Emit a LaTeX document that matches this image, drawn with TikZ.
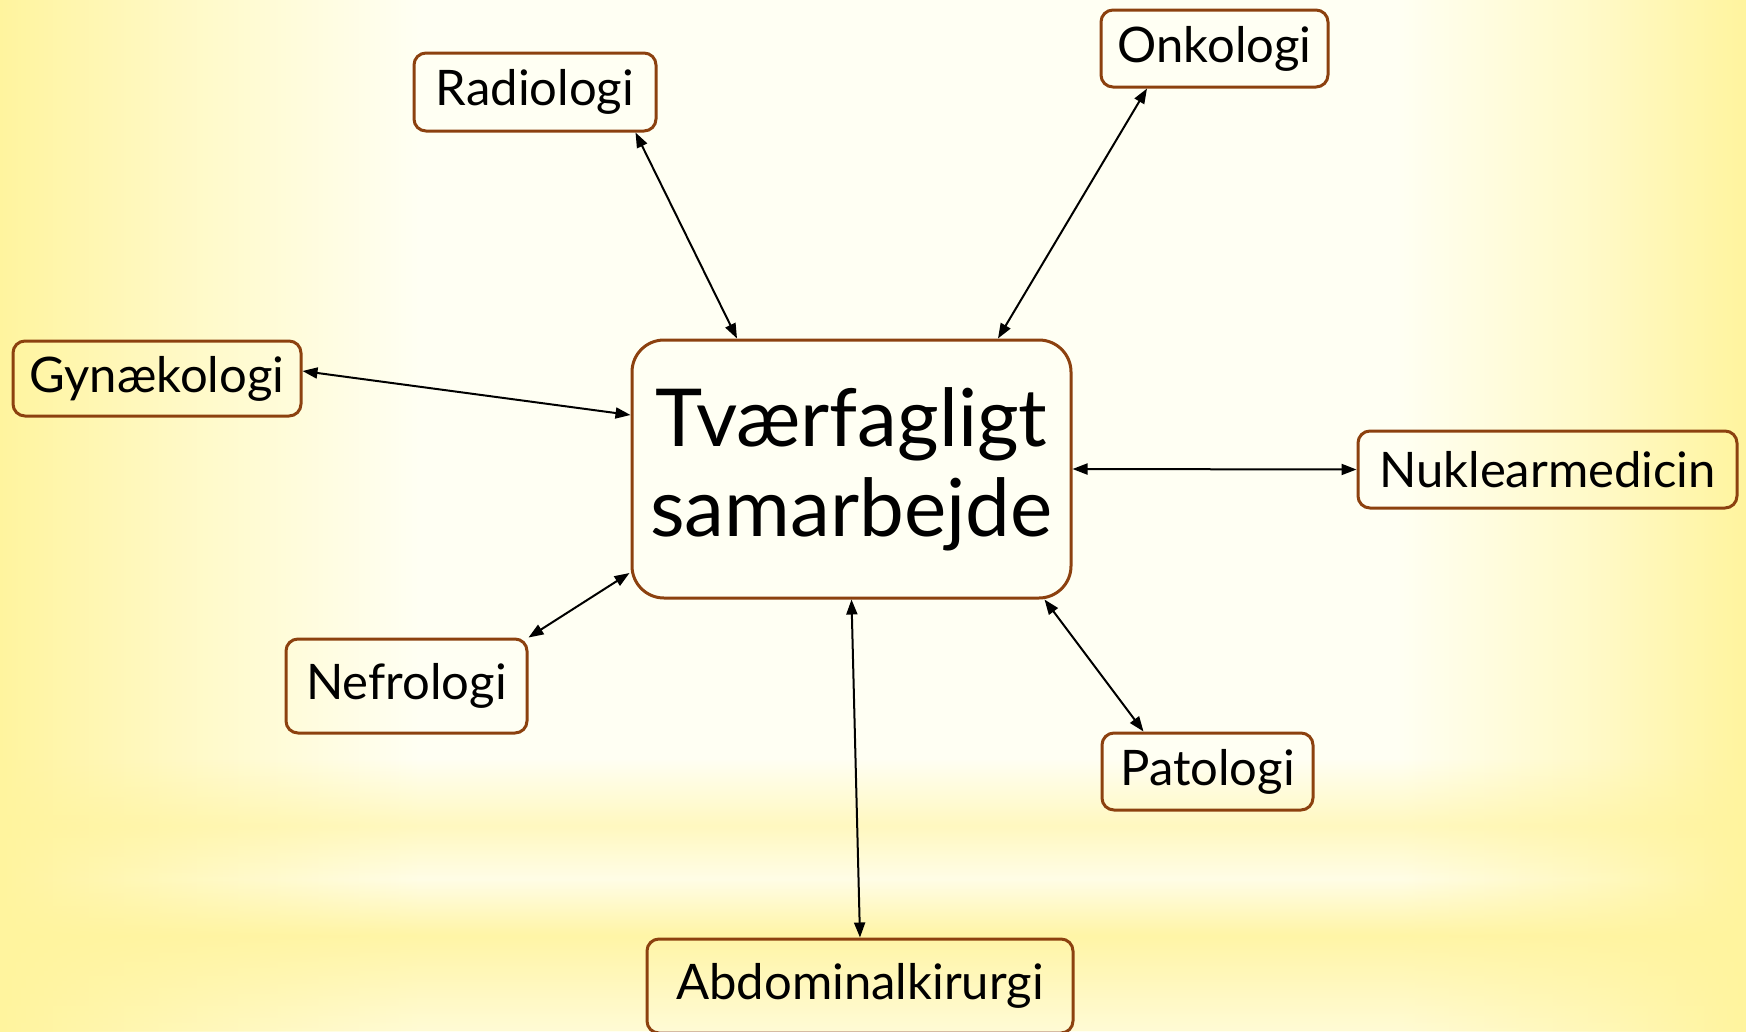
\documentclass[tikz,border=0pt]{standalone}
\usepackage{fontspec}
\setmainfont{Lato}
\usetikzlibrary{arrows.meta,fadings}

\definecolor{boxbrown}{RGB}{140,65,15}
\definecolor{bgyellow}{RGB}{255,244,158}
\definecolor{bgwhite}{RGB}{255,255,243}

\pgfdeclarehorizontalshading{bgsweep}{100bp}{color(0bp)=(bgyellow); color(25bp)=(bgyellow); color(30bp)=(bgyellow!55!bgwhite); color(37bp)=(bgwhite); color(65bp)=(bgwhite); color(71bp)=(bgyellow!55!bgwhite); color(75bp)=(bgyellow); color(100bp)=(bgyellow)}
\pgfdeclareverticalshading{bandshade}{100bp}{color(0bp)=(transparent!65); color(25bp)=(transparent!65); color(39.5bp)=(transparent!10); color(48bp)=(transparent!85); color(56bp)=(transparent!40); color(66bp)=(transparent!100); color(100bp)=(transparent!100)}
\pgfdeclarefading{bandfade}{\pgfuseshading{bandshade}}

\begin{document}
\begin{tikzpicture}[x=1pt, y=-1pt, line cap=round, line join=round, >={Triangle[length=15pt,width=11pt]},
  dept/.style={draw=boxbrown, line width=3pt, rounded corners=12pt, inner sep=0pt, font=\fontsize{49}{59}\selectfont},
  hub/.style={draw=boxbrown, line width=3pt, rounded corners=32pt, inner sep=0pt, align=center, font=\fontsize{80}{90}\selectfont},
  link/.style={<->, line width=2pt}]
  \useasboundingbox (0,0) rectangle (1746,1031);
  % --- background ---
  \shade[shading=bgsweep] (0,0) rectangle (1746,1031);
  \fill[bgyellow, path fading=bandfade] (0,700) rectangle (1746,1031);
  % --- centre ---
  \node[hub, minimum width=439, minimum height=258] (hub) at (851.5,469) {Tværfagligt\\samarbejde};
  % --- departments ---
  \node[dept, minimum width=242, minimum height=78] (radio) at (535,92) {Radiologi};
  \node[dept, minimum width=227, minimum height=77] (onko) at (1214.5,48.5) {Onkologi};
  \node[dept, minimum width=288, minimum height=75] (gyn) at (157,378.5) {Gynækologi};
  \node[dept, minimum width=379, minimum height=77] (nukl) at (1547.5,469.5) {Nuklearmedicin};
  \node[dept, minimum width=241, minimum height=94] (nefro) at (406.5,686) {Nefrologi};
  \node[dept, minimum width=211, minimum height=77] (pato) at (1207.5,771.5) {Patologi};
  \node[dept, minimum width=426, minimum height=94] (abd) at (860,986) {Abdominalkirurgi};
  % --- links ---
  \draw[link] ([xshift=-22pt]radio.south east) -- ([xshift=-114.5pt]hub.north);
  \draw[link] ([xshift=-67.5pt]onko.south) -- ([xshift=146.5pt]hub.north);
  \draw[link] ([yshift=7.5pt]gyn.east) -- ([yshift=54pt]hub.west);
  \draw[link] (hub.east) -- (nukl.west);
  \draw[link] (nefro.north east) -- ([yshift=-104pt,xshift=-1pt]hub.west);
  \draw[link] ([xshift=-28pt]hub.south east) -- ([xshift=43pt]pato.north west);
  \draw[link] (hub.south) -- (abd.north);
\end{tikzpicture}
\end{document}
